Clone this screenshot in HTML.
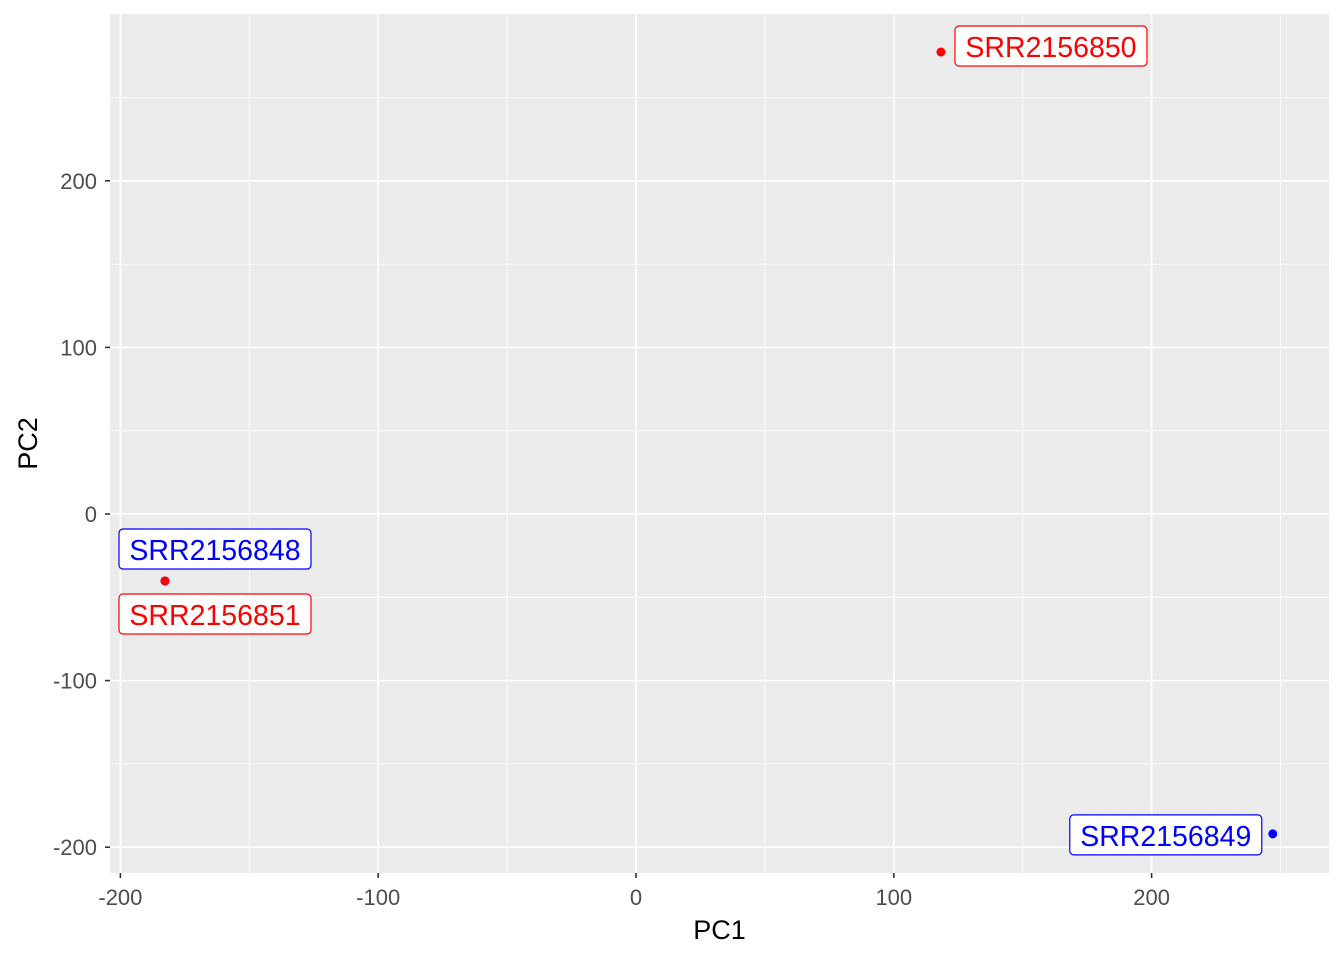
<!DOCTYPE html>
<html><head><meta charset="utf-8"><style>
body{margin:0;background:#fff}
svg{display:block;font-family:"Liberation Sans",sans-serif}
</style></head><body>
<svg id="chart" width="1344" height="960"></svg>
<script>
const samples=["SRR2156848","SRR2156849","SRR2156850","SRR2156851"];
const pc1=[-182.7,247,118.3,-182.7];
const pc2=[-40.2,-192,277.3,-40.2];
const groups=["blue","blue","red","red"];
const xTicks=[-200,-100,0,100,200];
const yTicks=[-200,-100,0,100,200];
// label box offsets relative to point (layout, not data)
const labelOffsets=[[-46,-52],[-203,-19],[14,-26],[-46,13]];
const NS="http://www.w3.org/2000/svg";
const svg=document.getElementById('chart');
const L=110,R=1329,T=14,B=873;
const sx=v=>636+v*2.578, sy=v=>514-v*1.666;
function mk(t,a,p){const e=document.createElementNS(NS,t);for(const k in a)e.setAttribute(k,a[k]);(p||svg).appendChild(e);return e;}
const panel=mk('rect',{x:L,y:T,width:R-L,height:B-T,fill:'#ebebeb'});


for(let i=0;i<xTicks.length;i++){const m=xTicks[i]+50;if(sx(m)<R)mk('line',{x1:sx(m),x2:sx(m),y1:T,y2:B,stroke:'#fff','stroke-width':0.8});}
mk('line',{x1:sx(-250),x2:sx(-250),y1:T,y2:B,stroke:'#fff','stroke-width':0.8});
for(let i=0;i<yTicks.length;i++){const m=yTicks[i]+50;if(sy(m)>T)mk('line',{x1:L,x2:R,y1:sy(m),y2:sy(m),stroke:'#fff','stroke-width':0.8});}
mk('line',{x1:L,x2:R,y1:sy(-250),y2:sy(-250),stroke:'#fff','stroke-width':0.8});
xTicks.forEach(v=>{const x=sx(v);
 const g=mk('line',{x1:x,x2:x,y1:T,y2:B,stroke:'#fff','stroke-width':1.6});
 
 mk('line',{x1:x,x2:x,y1:B,y2:B+5,stroke:'#333','stroke-width':1.6});
 const t=mk('text',{x:x,y:B+32,'text-anchor':'middle','font-size':22,fill:'#4d4d4d'});t.textContent=v;
 });
yTicks.forEach(v=>{const y=sy(v);
 const g=mk('line',{x1:L,x2:R,y1:y,y2:y,stroke:'#fff','stroke-width':1.6});
 
 mk('line',{x1:L-5,x2:L,y1:y,y2:y,stroke:'#333','stroke-width':1.6});
 const t=mk('text',{x:L-13,y:y+8,'text-anchor':'end','font-size':22,fill:'#4d4d4d'});t.textContent=v;
 });
samples.forEach((s,i)=>{const x=sx(pc1[i]),y=sy(pc2[i]),c=groups[i];
 const p=mk('circle',{cx:x,cy:y,r:4.5,fill:c});
 
 const g=mk('g',{});
 
 const bx=x+labelOffsets[i][0],by=y+labelOffsets[i][1];
 mk('rect',{x:bx,y:by,width:192,height:40,rx:4,fill:'#fff',stroke:c,'stroke-width':1.2},g);
 const t=mk('text',{x:bx+96,y:by+31,'text-anchor':'middle','font-size':28.5,fill:c},g);t.textContent=s;});
const xt=mk('text',{x:(L+R)/2,y:939,'text-anchor':'middle','font-size':27,fill:'#000'});xt.textContent='PC1';

const yt=mk('text',{x:0,y:0,'text-anchor':'middle','font-size':27,fill:'#000',transform:'translate(37,'+(T+B)/2+') rotate(-90)'});yt.textContent='PC2';

</script>
</body></html>
